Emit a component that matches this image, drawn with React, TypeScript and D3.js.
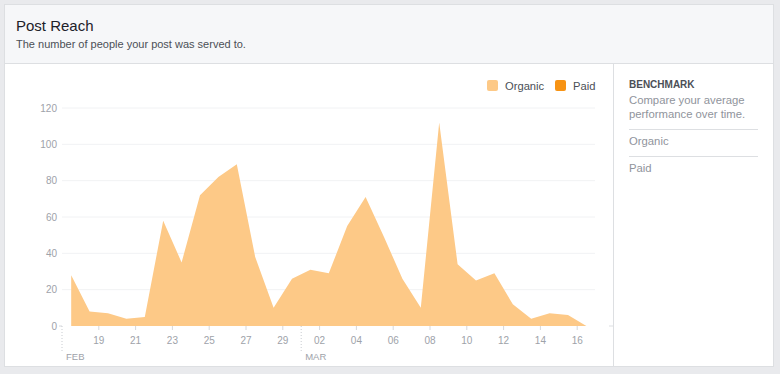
import React from 'react';
import * as d3 from 'd3';

// daily organic reach, Feb 17 - Mar 16 2016
const startDay = new Date(2016, 1, 17);
const organic = [28, 8, 7, 4, 5, 58, 35, 72, 82, 89, 38, 10, 26, 31,
  29, 55, 71, 49, 26, 10, 112, 34, 25, 29, 12, 4, 7, 6, 0];
const paid = organic.map(() => 0);
const yTicks = [0, 20, 40, 60, 80, 100, 120];
const monthStarts = [new Date(2016, 1, 17), new Date(2016, 2, 1)];
const legendItems = ['Organic', 'Paid'];
const sideRows = ['Organic', 'Paid'];

const W = 780, H = 374;
const font = '"Liberation Sans", Arial, Helvetica, sans-serif';
const organicColor = '#fdc987';
const paidColor = '#f79314';

export default function App() {
  const dates = organic.map((_, i) => d3.timeHour.offset(d3.timeDay.offset(startDay, i), 12));
  const x = d3.scaleTime()
    .domain([startDay, d3.timeDay.offset(startDay, organic.length)])
    .range([62, 595.6]);
  const y = d3.scaleLinear().domain([0, 120]).range([326, 108]);

  const area = d3.area<number>()
    .x((_, i) => x(dates[i]))
    .y0(y(0))
    .y1(d => y(d));

  const tickDates = d3.timeDay.range(new Date(2016, 1, 19), d3.timeDay.offset(startDay, organic.length), 2);
  const fmtDay = d3.timeFormat('%d');
  const fmtMonth = d3.timeFormat('%b');

  return (
    <div style={{ position: 'absolute', left: 0, top: 0 }}>
      <svg width={W} height={H} style={{ display: 'block', fontFamily: font }}>
        <rect width={W} height={H} fill="#e9eaed" />
        {/* card */}
        <rect x={4.5} y={4.5} width={769} height={362} fill="#fff" stroke="#dddfe2" />
        <rect x={5} y={5} width={768} height={58} fill="#f6f7f9" />
        <line x1={5} x2={773} y1={63.5} y2={63.5} stroke="#dddfe2" />
        <text x={16} y={31} fontSize={15} fill="#1d2129">Post Reach</text>
        <text x={16} y={48} fontSize={11} fill="#4b4f56">The number of people your post was served to.</text>

        {/* grid + y axis */}
        {yTicks.map(t => (
          <g key={t}>
            {t > 0 && <line x1={62} x2={595} y1={y(t)} y2={y(t)} stroke="#f1f2f4" />}
            <text x={57} y={y(t)} dy="0.35em" textAnchor="end" fontSize={10} fill="#9ea2a9">{t}</text>
          </g>
        ))}
        <line x1={59} x2={62} y1={y(0)} y2={y(0)} stroke="#d6d8dc" />

        {/* area */}
        <path d={area(paid) || ''} fill={paidColor} />
        <path d={area(organic) || ''} fill={organicColor} />

        {/* x axis */}
        {tickDates.map(d => (
          <g key={+d}>
            <line x1={x(d)} x2={x(d)} y1={326} y2={330} stroke="#d6d8dc" />
            <text x={x(d)} y={344} textAnchor="middle" fontSize={10} fill="#9ea2a9">{fmtDay(d)}</text>
          </g>
        ))}
        {monthStarts.map(d => (
          <g key={+d}>
            <line x1={x(d)} x2={x(d)} y1={326} y2={352} stroke="#c8cbd0" strokeDasharray="1,2" />
            <text x={x(d) + 4} y={360} fontSize={9.5} fill="#9ea2a9">{fmtMonth(d).toUpperCase()}</text>
          </g>
        ))}

        {/* legend */}
        {legendItems.map((name, i) => {
          const lx = i === 0 ? 487 : 555;
          return (
            <g key={name}>
              <rect x={lx} y={80} width={11} height={11} rx={2} fill={i === 0 ? organicColor : paidColor} />
              <text x={lx + 18} y={90} fontSize={11.2} fill="#4b4f56">{name}</text>
            </g>
          );
        })}

        {/* sidebar */}
        <line x1={613.5} x2={613.5} y1={64} y2={366} stroke="#dddfe2" />
        <line x1={609} x2={613} y1={326} y2={326} stroke="#dddfe2" />
        <text x={629} y={88} fontSize={10} fontWeight="bold" fill="#4b4f56">BENCHMARK</text>
        <text x={629} y={104} fontSize={11.3} fill="#90949c">Compare your average</text>
        <text x={629} y={118} fontSize={11.3} fill="#90949c">performance over time.</text>
        {sideRows.map((name, i) => (
          <g key={name}>
            <line x1={629} x2={758} y1={129.5 + i * 27} y2={129.5 + i * 27} stroke="#dddfe2" />
            <text x={629} y={145 + i * 27} fontSize={11.3} fill="#90949c">{name}</text>
          </g>
        ))}
      </svg>
    </div>
  );
}
